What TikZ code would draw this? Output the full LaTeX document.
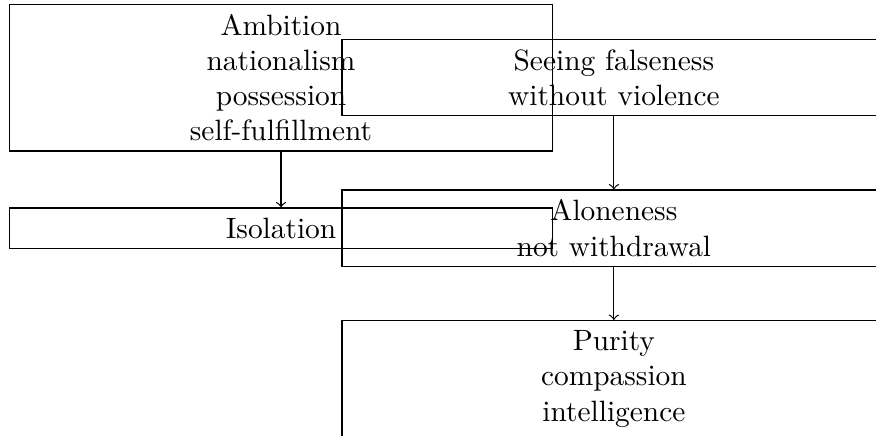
\documentclass[tikz,border=0pt]{standalone}
\usetikzlibrary{positioning}

\begin{document}
\begin{tikzpicture}[box/.style={draw, align=center, minimum width=6.5cm}]
        \clip (-95.6pt,-121.9pt) rectangle (202.4pt,26.4pt);
        %%%BOXES%%%
        \node[box] (ambition) at (0,0) {Ambition\\nationalism\\possession\\self-fulfillment};
        \node[box] (seeing) at (3.98,0) {Seeing falseness\\without violence};
        %next
        \node[box] (isolation) at (0,-1.8) {Isolation};
        \node[box] (aloneness) at (3.98,-1.8) {Aloneness\\not withdrawal};
        \node[box] (purity) at (3.98,-3.6) {Purity\\compassion\\intelligence};
        %arrows
        \draw[->] (ambition)--(isolation);
        \draw[->] (seeing)--(aloneness);
        \draw[->] (aloneness)--(purity);
    \end{tikzpicture}
\end{document}
